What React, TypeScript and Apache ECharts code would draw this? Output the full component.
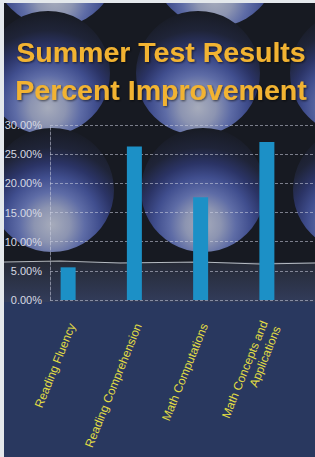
import React, { useEffect, useRef } from 'react';
import * as echarts from 'echarts';

const categories = [
  'Reading Fluency',
  'Reading Comprehension',
  'Math Computations',
  'Math Concepts and\nApplications',
];
const improvement = [0.056, 0.263, 0.176, 0.271];
const titleLines = ['Summer Test Results', 'Percent Improvement'];
const yMin = 0;
const yMax = 0.3;
const yInterval = 0.05;

const FONT = '"Liberation Sans", Arial, sans-serif';
const BG = '#171a22';

function buildBackground(): any[] {
  const els: any[] = [];
  els.push({ type: 'rect', z: -100, shape: { x: 0, y: 0, width: 315, height: 457 }, style: { fill: BG } });
  const rows = [
    { cy: -35, cxs: [55, 215, 370] },
    { cy: 73, cxs: [48, 198, 352] },
    { cy: 190, cxs: [52, 203, 355] },
  ];
  rows.forEach(({ cy, cxs }) => {
    cxs.forEach((cx) => {
      els.push({
        type: 'circle',
        z: -99,
        shape: { cx, cy, r: 62 },
        style: {
          fill: new echarts.graphic.RadialGradient(0.5, 0.78, 0.8, [
            { offset: 0, color: '#a6abbb' },
            { offset: 0.18, color: '#8c94b1' },
            { offset: 0.33, color: '#5e6ca6' },
            { offset: 0.48, color: '#404e8e' },
            { offset: 0.62, color: '#2b3466' },
            { offset: 0.78, color: '#1f2438' },
            { offset: 1, color: BG },
          ]),
        },
      });
    });
  });
  els.push({
    type: 'rect', z: -98, shape: { x: 0, y: 262, width: 315, height: 40 },
    style: { fill: new echarts.graphic.LinearGradient(0, 0, 0, 1, [
      { offset: 0, color: '#262a36' },
      { offset: 1, color: '#323c5a' },
    ]) },
  });
  els.push({ type: 'rect', z: -98, shape: { x: 0, y: 302, width: 315, height: 155 }, style: { fill: '#29385f' } });
  els.push({
    type: 'polyline', z: -97,
    shape: { points: [[4, 262], [60, 261], [120, 263], [200, 262], [260, 264], [315, 263]] },
    style: { stroke: 'rgba(230,235,240,0.75)', lineWidth: 1.2, fill: null },
  });
  els.push({ type: 'rect', z: -96, shape: { x: 0, y: 0, width: 4, height: 457 }, style: { fill: '#e4e8ec' } });
  els.push({ type: 'rect', z: -96, shape: { x: 0, y: 0, width: 315, height: 3 }, style: { fill: '#e4e8ec' } });
  return els;
}

export default function App() {
  const ref = useRef<HTMLDivElement>(null);
  useEffect(() => {
    if (!ref.current) return;
    const chart = echarts.init(ref.current, null, { renderer: 'svg' });
    const gridLine = { color: 'rgba(205,210,225,0.55)', width: 1, type: [3, 2] as any };
    const titleStyle = {
      fill: '#f2b330',
      font: `bold 28.5px ${FONT}`,
      align: 'center',
      verticalAlign: 'middle',
      textShadowColor: 'rgba(0,0,0,0.6)',
      textShadowBlur: 2,
      textShadowOffsetX: 1,
      textShadowOffsetY: 1,
    };
    const option: any = {
      animation: false,
      backgroundColor: BG,
      graphic: {
        elements: [
          ...buildBackground(),
          { type: 'text', z: 10, x: 161, y: 52, style: { ...titleStyle, text: titleLines[0] } },
          { type: 'text', z: 10, x: 161, y: 90, style: { ...titleStyle, text: titleLines[1] } },
        ],
      },
      grid: [
        { left: 50, top: 125, width: 265, height: 175 },
        { left: 35, top: 125, width: 265, height: 175 },
        { left: 39, top: 125, width: 265, height: 175 },
      ],
      xAxis: [
        { gridIndex: 0, type: 'category', data: categories, axisLine: { show: false }, axisTick: { show: false }, axisLabel: { show: false }, splitLine: { show: false } },
        { gridIndex: 1, type: 'category', data: categories, show: false },
        {
          gridIndex: 2, type: 'category', data: categories,
          axisLine: { show: false }, axisTick: { show: false }, splitLine: { show: false },
          axisLabel: { interval: 0, rotate: 68, margin: 24, color: '#e2dd44', fontSize: 12, fontFamily: FONT, lineHeight: 14 },
        },
      ],
      yAxis: [
        {
          gridIndex: 0, type: 'value', min: yMin, max: yMax, interval: yInterval,
          axisLine: { show: true, lineStyle: gridLine },
          axisTick: { show: false },
          splitLine: { show: true, lineStyle: gridLine },
          axisLabel: {
            margin: 8, color: '#d6d9e3', fontSize: 11, fontFamily: FONT,
            formatter: (v: number) => (v * 100).toFixed(2) + '%',
          },
        },
        { gridIndex: 1, type: 'value', min: yMin, max: yMax, show: false },
        { gridIndex: 2, type: 'value', min: yMin, max: yMax, show: false },
      ],
      series: [
        {
          type: 'bar', xAxisIndex: 1, yAxisIndex: 1, data: improvement,
          barWidth: 15, itemStyle: { color: '#1c90c6' },
        },
      ],
    };
    chart.setOption(option);
    return () => chart.dispose();
  }, []);
  return <div ref={ref} style={{ position: 'absolute', left: 0, top: 0, width: 315, height: 457 }} />;
}
